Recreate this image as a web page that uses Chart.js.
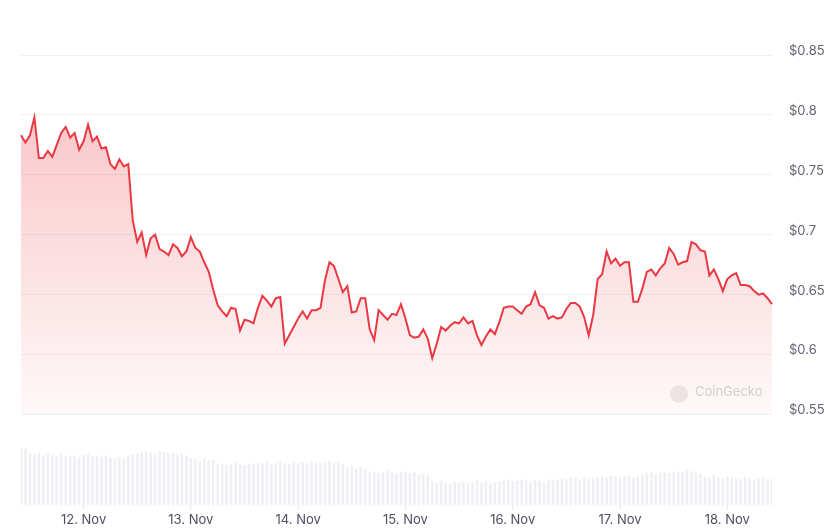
<!DOCTYPE html>
<html>
<head>
<meta charset="utf-8">
<script src="https://cdn.jsdelivr.net/npm/chart.js"></script>
<style>
  html, body { margin: 0; padding: 0; background: #fff; }
  #wrap { width: 835px; height: 531px; position: relative; }
</style>
</head>
<body>
<div id="wrap"><canvas id="priceChart"></canvas></div>
<script>
// hourly series, starts 11 Nov 10:00 -> index 14 is 12 Nov 00:00
const dayLabels = ['12. Nov', '13. Nov', '14. Nov', '15. Nov', '16. Nov', '17. Nov', '18. Nov'];
const firstMidnight = 14;
const priceTicks = [0.55, 0.6, 0.65, 0.7, 0.75, 0.8, 0.85];

const prices = [
  0.783, 0.777, 0.783, 0.798, 0.764, 0.764, 0.770, 0.765, 0.775, 0.785,
  0.790, 0.781, 0.785, 0.771, 0.778, 0.792, 0.778, 0.782, 0.772, 0.773,
  0.759, 0.755, 0.763, 0.757, 0.759, 0.712, 0.694, 0.702, 0.683, 0.697,
  0.700, 0.688, 0.686, 0.683, 0.692, 0.689, 0.682, 0.686, 0.698, 0.689,
  0.686, 0.677, 0.669, 0.654, 0.641, 0.636, 0.632, 0.639, 0.638, 0.620,
  0.629, 0.628, 0.626, 0.639, 0.649, 0.645, 0.640, 0.647, 0.648, 0.609,
  0.616, 0.623, 0.630, 0.636, 0.630, 0.637, 0.637, 0.639, 0.662, 0.677,
  0.674, 0.663, 0.652, 0.657, 0.635, 0.636, 0.647, 0.647, 0.621, 0.612,
  0.637, 0.633, 0.629, 0.634, 0.633, 0.642, 0.630, 0.616, 0.614, 0.615,
  0.621, 0.613, 0.597, 0.609, 0.623, 0.620, 0.624, 0.627, 0.626, 0.631,
  0.626, 0.628, 0.616, 0.608, 0.615, 0.621, 0.617, 0.627, 0.639, 0.640,
  0.640, 0.637, 0.634, 0.640, 0.642, 0.652, 0.641, 0.639, 0.630, 0.632,
  0.630, 0.631, 0.638, 0.643, 0.643, 0.640, 0.631, 0.616, 0.633, 0.663,
  0.667, 0.686, 0.676, 0.680, 0.674, 0.677, 0.677, 0.644, 0.644, 0.655,
  0.669, 0.671, 0.666, 0.672, 0.676, 0.689, 0.684, 0.675, 0.677, 0.678,
  0.694, 0.692, 0.687, 0.686, 0.666, 0.671, 0.663, 0.653, 0.663, 0.666,
  0.668, 0.658, 0.658, 0.657, 0.653, 0.650, 0.651, 0.647, 0.642
];

// volume (relative units)
const volumes = [
  58, 57,
  52, 51, 52, 50, 52, 51, 49, 52,
  50, 49, 50, 48, 50, 51, 49, 50, 48, 50,
  48, 47, 48, 46,
  50, 51, 52,
  53, 54, 53, 52, 54, 53, 52, 53, 51, 52, 50,
  47, 46, 44, 47, 45, 46,
  41, 42, 40, 41, 43, 41, 40, 42, 41, 42,
  42, 43, 41, 42, 44, 42, 41, 43, 42,
  43, 42, 44, 43, 42, 43, 44, 42, 43, 41,
  38, 39, 37, 38, 36,
  33, 34, 32, 33, 35, 33, 32, 34, 33,
  32, 33, 31, 32, 30,
  24, 23, 25, 23, 22, 24, 23, 24, 22, 23, 25, 23, 24, 22, 23, 24,
  25, 26, 24, 25, 26, 25, 24, 26, 25, 24, 26, 25, 26,
  27, 26, 28, 27, 26, 28, 27, 27, 28,
  29, 28, 30, 29, 28, 29, 30, 28, 29,
  31, 32, 33, 31, 32, 33, 32,
  33, 34, 33, 35, 34, 33, 32,
  29, 28, 30, 28, 27, 29, 28,
  27, 26, 28, 27, 26, 27, 28, 26, 27
];

const RED = '#ea3943';
const hours = prices.map((_, i) => i);

function dayLabelAt(i) {
  const k = (i - firstMidnight) / 24;
  return Number.isInteger(k) && k >= 0 && k < dayLabels.length ? dayLabels[k] : '';
}

const watermark = {
  id: 'watermark',
  beforeDatasetsDraw(chart) {
    const c = chart.ctx;
    c.save();
    c.fillStyle = 'rgba(200,200,200,0.35)';
    c.beginPath();
    c.arc(679, 394, 9, 0, Math.PI * 2);
    c.fill();
    c.fillStyle = '#d6d6d6';
    c.font = '13px Inter, "DejaVu Sans", sans-serif';
    c.textBaseline = 'middle';
    c.fillText('CoinGecko', 695, 392);
    c.restore();
  }
};

new Chart(document.getElementById('priceChart'), {
  data: {
    labels: hours,
    datasets: [
      {
        type: 'line',
        order: 0,
        data: prices,
        borderColor: RED,
        borderWidth: 2,
        pointRadius: 0,
        tension: 0,
        fill: { value: 0.55 },
        backgroundColor: (ctx) => {
          const chart = ctx.chart;
          if (!chart.chartArea) return 'rgba(234,57,67,0.15)';
          const ys = chart.scales.y;
          const g = chart.ctx.createLinearGradient(0, ys.getPixelForValue(0.8), 0, ys.getPixelForValue(0.55));
          g.addColorStop(0, 'rgba(234,57,67,0.28)');
          g.addColorStop(1, 'rgba(234,57,67,0.03)');
          return g;
        },
        yAxisID: 'y'
      },
      {
        type: 'bar',
        order: 1,
        data: volumes,
        backgroundColor: '#eef0f3',
        barPercentage: 0.6,
        categoryPercentage: 1,
        yAxisID: 'yVol'
      }
    ]
  },
  options: {
    responsive: true,
    maintainAspectRatio: false,
    animation: false,
    layout: { padding: { left: 21, top: 0, right: 0, bottom: 0 } },
    plugins: { legend: { display: false }, tooltip: { enabled: false } },
    scales: {
      x: {
        type: 'category',
        offset: false,
        ticks: {
          autoSkip: false,
          maxRotation: 0,
          padding: 3,
          color: '#4b5160',
          font: { family: 'Inter', size: 13 },
          callback: (v, i) => dayLabelAt(i)
        },
        grid: {
          offset: false,
          drawOnChartArea: false,
          drawTicks: true,
          tickLength: 4,
          tickColor: (ctx) => dayLabelAt(ctx.index) ? '#e6e8eb' : 'rgba(0,0,0,0)'
        },
        border: { display: false }
      },
      y: {
        position: 'right',
        min: 0.474,
        max: 0.896,
        afterBuildTicks: (s) => {
          s.ticks = priceTicks.map((v) => ({ value: v }));
        },
        afterFit: (s) => { s.width = 63; s.paddingTop = 0; s.paddingBottom = 0; },
        ticks: {
          padding: 17,
          labelOffset: -4,
          color: '#5f6673',
          font: { family: 'Inter', size: 13 },
          callback: (v) => '$' + Number(v.toFixed(2))
        },
        grid: { drawTicks: false, color: '#eef0f2', lineWidth: 1 },
        border: { display: false }
      },
      yVol: {
        display: false,
        min: 0,
        max: 505
      }
    }
  },
  plugins: [watermark]
});
</script>
</body>
</html>
